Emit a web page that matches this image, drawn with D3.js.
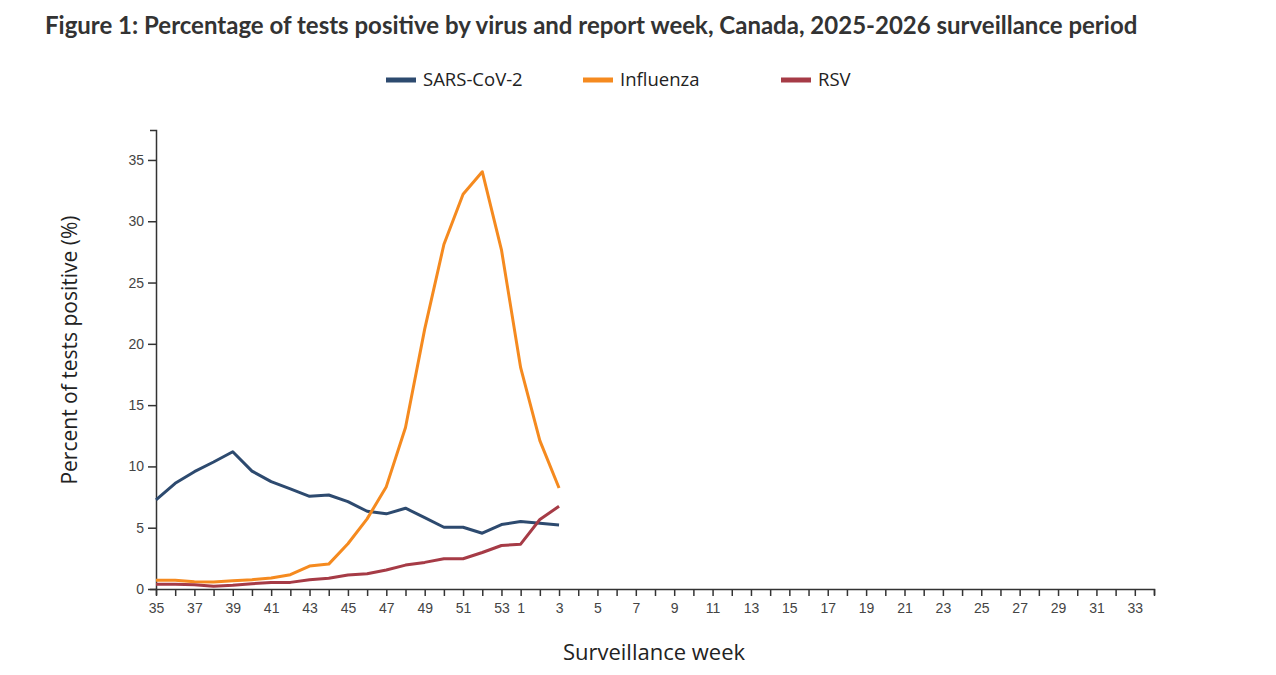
<!DOCTYPE html>
<html>
  <head>
    <meta charset="utf-8">
    <title>Percentage of tests positive</title>
    <script src="https://cdn.jsdelivr.net/npm/d3@7"></script>
    <style>
      body { margin: 0; background: #fff; }
      .tick text { font-family: "Liberation Sans", Arial, sans-serif; font-size: 14px; fill: #444; }
      .domain, .tick line { stroke: #333; stroke-width: 1.5; }
    </style>
  </head>
  <body>
    <svg id="container" width="1276" height="675"></svg>
  </body>
  <script>
    // surveillance weeks 35..53 then 1..34
    const weeks = d3.range(35, 54).concat(d3.range(1, 35));
    const observedWeeks = d3.range(35, 54).concat([1, 2, 3]);

    const series = ["SARS-CoV-2", "Influenza", "RSV"];
    const colors = ["#2d4a6f", "#f58a1f", "#a63b46"];

    const sarsCov2 = [7.27, 8.62, 9.57, 10.36, 11.2, 9.62, 8.76, 8.16, 7.56, 7.67, 7.13, 6.34, 6.13, 6.59, 5.83, 5.04, 5.04, 4.55, 5.26, 5.5, 5.37, 5.23];
    const influenza = [0.71, 0.71, 0.6, 0.57, 0.68, 0.76, 0.9, 1.17, 1.87, 2.03, 3.69, 5.72, 8.35, 13.17, 21.2, 28.1, 32.2, 34.04, 27.67, 18.05, 12.1, 8.24];
    const rsv = [0.38, 0.38, 0.35, 0.22, 0.3, 0.43, 0.54, 0.54, 0.76, 0.87, 1.14, 1.25, 1.55, 1.95, 2.17, 2.47, 2.47, 2.98, 3.55, 3.66, 5.67, 6.75];

    const yTicks = [0, 5, 10, 15, 20, 25, 30, 35];

    const svg = d3.select("#container");
    const margin = { left: 156, right: 122, top: 130, bottom: 86 };
    const width = 1276, height = 675;

    const x = d3.scalePoint()
      .domain(weeks)
      .range([margin.left, width - margin.right]);

    const y = d3.scaleLinear()
      .domain([0, d3.max(influenza) * 1.1])
      .range([height - margin.bottom, margin.top]);

    // title
    svg.append("text")
      .attr("x", 45).attr("y", 34)
      .style("font-family", "Lato, sans-serif")
      .style("font-weight", "bold")
      .style("font-size", "24px")
      .style("fill", "#333")
      .text("Figure 1: Percentage of tests positive by virus and report week, Canada, 2025-2026 surveillance period");

    // axes
    svg.append("g")
      .attr("transform", `translate(0,${height - margin.bottom})`)
      .call(d3.axisBottom(x).tickSizeOuter(6).tickFormat(d => d % 2 === 1 ? d : ""))
      .call(g => g.selectAll(".tick line").attr("y2", 7))
      .call(g => g.selectAll(".tick text").attr("dy", "1.05em"));

    svg.append("g")
      .attr("transform", `translate(${margin.left},0)`)
      .call(d3.axisLeft(y).tickValues(yTicks).tickSize(8).tickSizeOuter(6))
      .call(g => g.selectAll(".tick text").attr("x", -12));

    svg.append("text")
      .attr("transform", `translate(77,350) rotate(-90)`)
      .attr("text-anchor", "middle")
      .style("font-family", "'Open Sans', sans-serif")
      .style("font-size", "21px")
      .style("fill", "#222")
      .text("Percent of tests positive (%)");

    svg.append("text")
      .attr("x", 654).attr("y", 660)
      .attr("text-anchor", "middle")
      .style("font-family", "'Open Sans', sans-serif")
      .style("font-size", "22px")
      .style("fill", "#222")
      .text("Surveillance week");

    // lines
    const line = d3.line()
      .x((d, i) => x(observedWeeks[i]))
      .y(d => y(d));

    [sarsCov2, influenza, rsv].forEach((vals, i) => {
      svg.append("path")
        .datum(vals)
        .attr("fill", "none")
        .attr("stroke", colors[i])
        .attr("stroke-width", 3)
        .attr("stroke-linejoin", "round")
        .attr("d", line);
    });

    // legend
    const legendX = [386, 583, 781];
    const legend = svg.append("g").selectAll("g")
      .data(series)
      .join("g")
      .attr("transform", (d, i) => `translate(${legendX[i]},80)`);
    legend.append("rect")
      .attr("x", 0).attr("y", -2.5)
      .attr("width", 30).attr("height", 5)
      .attr("fill", (d, i) => colors[i]);
    legend.append("text")
      .attr("x", 37).attr("dy", "0.35em")
      .style("font-family", "'Open Sans', sans-serif")
      .style("font-size", "18.5px")
      .style("fill", "#222")
      .text(d => d);
  </script>
</html>
